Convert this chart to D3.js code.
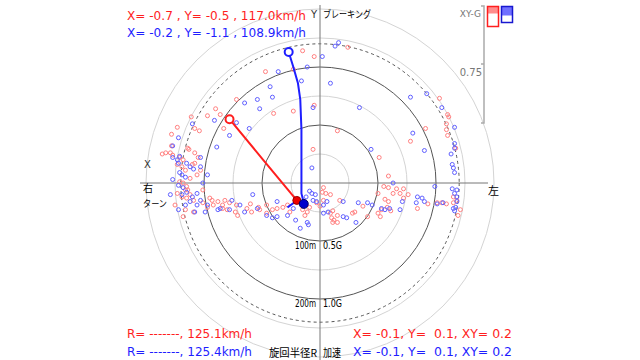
<!DOCTYPE html>
<html><head><meta charset="utf-8">
<script src="https://cdn.jsdelivr.net/npm/d3@7"></script>
<style>body{margin:0;background:#fff}svg{display:block}text{white-space:pre}</style>
</head><body>
<svg id="c" width="640" height="360"></svg>
<script>
// G-force samples [lateral X, longitudinal Y]
const redPoints = [[-0.15,-1.14],[-0.05,-1.09],[-0.23,-0.98],[-0.72,-0.72],[-0.90,-0.64],[-0.86,-0.59],[-0.97,-0.58],[-1.11,-0.57],[-1.23,-0.48],[-1.08,-0.47],[-1.04,-0.45],[-0.83,-0.47],[-1.28,-0.42],[-1.13,-0.29],[-0.40,-0.60],[-0.23,-0.62],[-0.06,-0.29],[-0.05,-0.67],[0.15,-0.45],[0.51,-0.22],[0.91,-0.47],[0.78,-0.36],[1.03,-0.73],[1.10,-0.59],[1.11,-0.57],[1.09,-0.51],[1.09,-0.46],[1.10,-0.41],[1.17,-0.30],[0.59,-0.06],[0.24,-1.17],[-0.47,-0.96],
[-1.36,-0.25],[-1.33,-0.26],[-1.29,-0.26],[-1.27,-0.24],[-1.21,-0.22],[-1.18,-0.20],[-1.08,-0.26],[-1.05,-0.22],[-1.23,-0.16],[-1.19,-0.14],[-1.16,-0.11],[-1.10,-0.16],[-1.08,-0.17],[-1.03,-0.11],[-1.06,-0.07],[-1.21,-0.01],[-1.18,0.00],[-1.15,0.03],[-1.16,0.06],[-1.14,0.06],[-1.23,0.09],[-1.19,0.12],[-1.15,0.13],[-1.12,0.10],[-1.09,0.15],[-1.01,0.06],[-1.28,-0.32],[-1.14,-0.30],[-1.12,-0.04],[-1.18,0.29],[-1.25,0.19],[-1.16,0.23],
[-1.09,0.25],[-1.01,0.17],[-0.97,0.21],[-0.95,0.13],[-0.93,0.15],[-0.88,0.16],[-0.92,0.19],[-0.84,0.19],[-0.82,0.15],[-0.84,0.22],[-0.80,0.23],[-0.78,0.17],[-0.72,0.19],[-0.73,0.25],[-0.71,0.28],[-0.63,0.22],[-0.60,0.18],[-0.59,0.25],[-0.53,0.21],[-0.52,0.23],[-0.46,0.26],[-0.46,0.19],[-0.41,0.23],[-0.37,0.22],[-0.32,0.21],[-0.28,0.19],[-0.26,0.25],[-0.09,0.21],[-0.03,0.17],[0.03,0.15],
[0.03,0.04],[0.02,0.08],[0.05,0.09],[0.09,0.10],[-0.13,0.28],[-0.11,0.25],[-0.15,0.23],[0.11,0.24],[0.09,0.26],[0.15,0.28],[0.12,0.32],[0.11,0.34],[0.15,0.34],[0.10,0.30],[0.00,0.20],[0.28,0.26],[0.30,0.25],[0.37,0.20],[0.41,0.29],[0.50,0.26],[0.52,0.29],[0.50,0.09],[0.55,0.03],[0.59,0.04],[0.56,0.14],[0.59,0.16],[0.58,0.21],[0.53,0.23],[0.61,0.24],[0.63,0.09],[0.66,0.05],[0.72,0.05],[0.69,0.09],[0.76,0.10],[0.72,0.13],[0.84,0.22],[0.93,0.18],[1.01,0.17],[1.05,0.17],[1.09,0.18],[1.15,0.12],[1.18,0.15],[1.15,0.17],[1.21,0.23],[1.19,0.28],[0.17,0.15]];
const bluePoints = [[0.02,-1.09],[0.16,-1.21],[0.13,-1.18],[-0.36,-0.96],[-0.11,-1.00],[-0.16,-0.88],[0.09,-0.86],[-0.43,-0.83],[-0.54,-0.72],[-0.65,-0.69],[-0.41,-0.74],[-0.52,-0.64],[-0.06,-0.65],[-0.91,-0.54],[-0.72,-0.52],[-0.61,-0.47],[-0.78,-0.41],[-1.10,-0.51],[-1.22,-0.39],[-1.27,-0.32],[-0.89,-0.31],[-1.21,-0.23],[0.34,-0.65],[0.78,-0.74],[0.92,-0.77],[1.05,-0.65],[1.16,-0.48],[0.80,-0.43],[1.16,-0.34],[1.16,-0.30],[0.90,-0.28],[0.44,-0.29],[1.13,-0.25],[1.14,-0.16],[1.15,-0.13],[1.16,-0.09],[-0.07,-0.13],[0.99,0.03],[1.14,0.05],[1.18,0.06],[1.16,0.09],[1.18,0.12],[1.18,0.16],[1.17,0.21],[1.15,0.22],[1.16,0.24],
[-0.09,0.07],[-0.07,0.09],[-0.04,0.10],[-0.06,0.15],[-0.03,0.16],[0.06,0.16],[0.20,0.16],[0.33,0.17],[0.41,0.17],[0.45,0.19],[0.63,0.00],[0.71,0.16],[0.84,0.12],[0.88,0.13],[0.90,0.16],[1.01,0.18],[1.06,0.17],[0.83,0.17],[0.56,0.23],[0.53,0.22],[0.60,0.22],[0.69,0.23],[0.20,0.29],[0.23,0.30],[0.31,0.34],[0.03,0.26],[0.07,0.25],[-0.11,0.34],[-0.10,0.36],
[-1.27,-0.22],[-1.23,-0.20],[-1.22,-0.17],[-1.15,-0.17],[-1.12,-0.14],[-1.09,-0.12],[-1.21,-0.09],[-1.16,-0.05],[-1.27,-0.03],[-1.22,0.02],[-1.18,0.04],[-1.15,0.08],[-1.19,0.10],[-1.10,0.12],[-1.06,0.09],[-1.12,0.16],[-1.16,0.19],[-1.06,0.19],[-1.03,0.15],[-0.97,0.19],[-0.86,0.22],[-1.01,0.00],[-1.03,-0.22],[-0.97,-0.07],[-0.76,0.15],[-0.69,0.19],[-0.58,0.10],[-0.37,0.16],[-0.12,0.12],[0.03,0.19],[-1.08,0.25],[-0.99,0.25],[-0.88,0.23],[-0.78,0.23],[-0.65,0.25],[-0.54,0.22],[-0.46,0.28],[-0.37,0.29],[-0.28,0.28],[-0.41,0.30],[-0.23,0.22],[-0.21,0.32],[-1.03,-0.14],[-1.19,-0.07],[-1.22,0.23],[-1.29,0.10],[-0.17,0.39]];
const redTrail = [[-0.20,0.15],[-0.49,-0.20],[-0.78,-0.55]];
const blueTrail = [[-0.27,-1.13],[-0.23,-1.00],[-0.19,-0.86],[-0.17,-0.72],[-0.16,-0.46],[-0.16,-0.20],[-0.16,0.09],[-0.14,0.17]];
const blueHook = [[-0.14,0.17],[-0.21,0.16],[-0.28,0.21]];
const redNow = [-0.20,0.15];
const blueNow = [-0.14,0.18];
const solidRings = [0.5,1.0];
const lightRings = [0.25,0.75,1.25,1.5];
const dashRing = 1.2;
const topLines = ["X= -0.7 , Y= -0.5 , 117.0km/h","X= -0.2 , Y= -1.1 , 108.9km/h"];
const bottomLeft = ["R= -------, 125.1km/h","R= -------, 125.4km/h"];
const bottomRight = ["X= -0.1, Y=  0.1, XY= 0.2","X= -0.1, Y=  0.1, XY= 0.2"];
const ringLabels = [{g:0.5,r:"100m",v:"0.5G"},{g:1.0,r:"200m",v:"1.0G"}];
const gaugeTicks = ["XY-G","0.75"];

const svg = d3.select("#c");
const cx=320, cy=183, R=174;
const x = d3.scaleLinear().domain([-1.5,1.5]).range([cx-R,cx+R]);
const y = d3.scaleLinear().domain([-1.5,1.5]).range([cy-R,cy+R]);
const rr = g => x(g)-x(0);
const RED="#ff1e1e", BLUE="#1e1eff";

svg.append("rect").attr("width",640).attr("height",360).attr("fill","#fff");
const g = svg.append("g");
g.selectAll(".lr").data(lightRings).join("circle").attr("cx",x(0)).attr("cy",y(0)).attr("r",rr).attr("fill","none").attr("stroke","#d4d4d4").attr("stroke-width",1);
g.selectAll(".sr").data(solidRings).join("circle").attr("cx",x(0)).attr("cy",y(0)).attr("r",rr).attr("fill","none").attr("stroke","#555").attr("stroke-width",1);
g.append("circle").attr("cx",x(0)).attr("cy",y(0)).attr("r",rr(dashRing)).attr("fill","none").attr("stroke","#555").attr("stroke-dasharray","3,3");

// axes
g.append("line").attr("x1",140).attr("x2",488).attr("y1",y(0)).attr("y2",y(0)).attr("stroke","#777");
g.append("line").attr("x1",x(0)).attr("x2",x(0)).attr("y1",5).attr("y2",360).attr("stroke","#777");

// points
g.selectAll(".rp").data(redPoints).join("circle").attr("cx",d=>x(d[0])).attr("cy",d=>y(d[1])).attr("r",2).attr("fill","none").attr("stroke","#ff8080").attr("stroke-width",1);
g.selectAll(".bp").data(bluePoints).join("circle").attr("cx",d=>x(d[0])).attr("cy",d=>y(d[1])).attr("r",2).attr("fill","none").attr("stroke","#6060ff").attr("stroke-width",1);

const line = d3.line().x(d=>x(d[0])).y(d=>y(d[1]));
g.append("path").attr("d",line(redTrail)).attr("fill","none").attr("stroke",RED).attr("stroke-width",2);
g.append("path").attr("d",line(blueTrail)).attr("fill","none").attr("stroke",BLUE).attr("stroke-width",2);
g.append("path").attr("d",line(blueHook)).attr("fill","none").attr("stroke",BLUE).attr("stroke-width",2);
g.append("circle").attr("cx",x(redTrail[2][0])).attr("cy",y(redTrail[2][1])).attr("r",4).attr("fill","#fff").attr("stroke",RED).attr("stroke-width",2);
g.append("circle").attr("cx",x(blueTrail[0][0])).attr("cy",y(blueTrail[0][1])).attr("r",4).attr("fill","#fff").attr("stroke",BLUE).attr("stroke-width",2);
g.append("circle").attr("cx",x(redNow[0])).attr("cy",y(redNow[1])).attr("r",4).attr("fill","#e00").attr("stroke","#900").attr("stroke-width",1);
g.append("circle").attr("cx",x(blueNow[0])).attr("cy",y(blueNow[1])).attr("r",4.5).attr("fill","#00c").attr("stroke","#006").attr("stroke-width",1);

// texts
const F="DejaVu Sans, Verdana, sans-serif", J="'Noto Sans CJK JP', sans-serif";
function t(s,px,py,opts){
  const e=svg.append("text").attr("x",px).attr("y",py).text(s)
    .attr("font-family",opts.f||F).attr("font-size",opts.s||12).attr("fill",opts.c||"#000")
    .attr("text-anchor",opts.a||"start");
  if(opts.w) e.attr("textLength",opts.w).attr("lengthAdjust","spacingAndGlyphs");
  return e;
}
t(topLines[0],127,20,{c:RED,s:12,w:179});
t(topLines[1],127,37,{c:BLUE,s:12,w:179});
t(bottomLeft[0],127,338,{c:RED,s:12,w:125});
t(bottomLeft[1],127,356,{c:BLUE,s:12,w:125});
t(bottomRight[0],353,338,{c:RED,s:12,w:159});
t(bottomRight[1],353,356,{c:BLUE,s:12,w:159});

t("Y",317,18,{s:10,a:"end",c:"#333"});
t("ブレーキング",323,18,{f:J,s:10,w:48});
t("X",144,168,{s:10,c:"#333"});
t("右",143,192,{f:J,s:10});
t("ターン",143,207,{f:J,s:9.5,w:24});
t("左",488,195,{f:J,s:11});
ringLabels.forEach(l=>{
  t(l.r,316,y(l.g)+8,{s:10,a:"end",w:21});
  t(l.v,323,y(l.g)+8,{s:10,w:19});
});
t("旋回半径R",317,357,{f:J,s:11,a:"end",w:48});
t("加速",323,357,{f:J,s:11,w:18});

// XY-G gauge
const gauge = svg.append("g");
gauge.append("path").attr("d","M481,6H484V123H481M481,64H484").attr("fill","none").attr("stroke","#aaa").attr("stroke-width",1.5);
t(gaugeTicks[0],481,17,{s:9,a:"end",c:"#777"});
t(gaugeTicks[1],482,76,{s:10,a:"end",c:"#777"});
gauge.append("rect").attr("x",487.5).attr("y",6.5).attr("width",11).attr("height",7).attr("fill","#ff8c8c");
gauge.append("rect").attr("x",487.5).attr("y",6.5).attr("width",11).attr("height",20).attr("fill","none").attr("stroke",RED).attr("stroke-width",1.5);
gauge.append("rect").attr("x",501.5).attr("y",6.5).attr("width",11).attr("height",9).attr("fill","#7070ff");
gauge.append("rect").attr("x",501.5).attr("y",6.5).attr("width",11).attr("height",16).attr("fill","none").attr("stroke","#1818d0").attr("stroke-width",1.5);
</script>
</body></html>
